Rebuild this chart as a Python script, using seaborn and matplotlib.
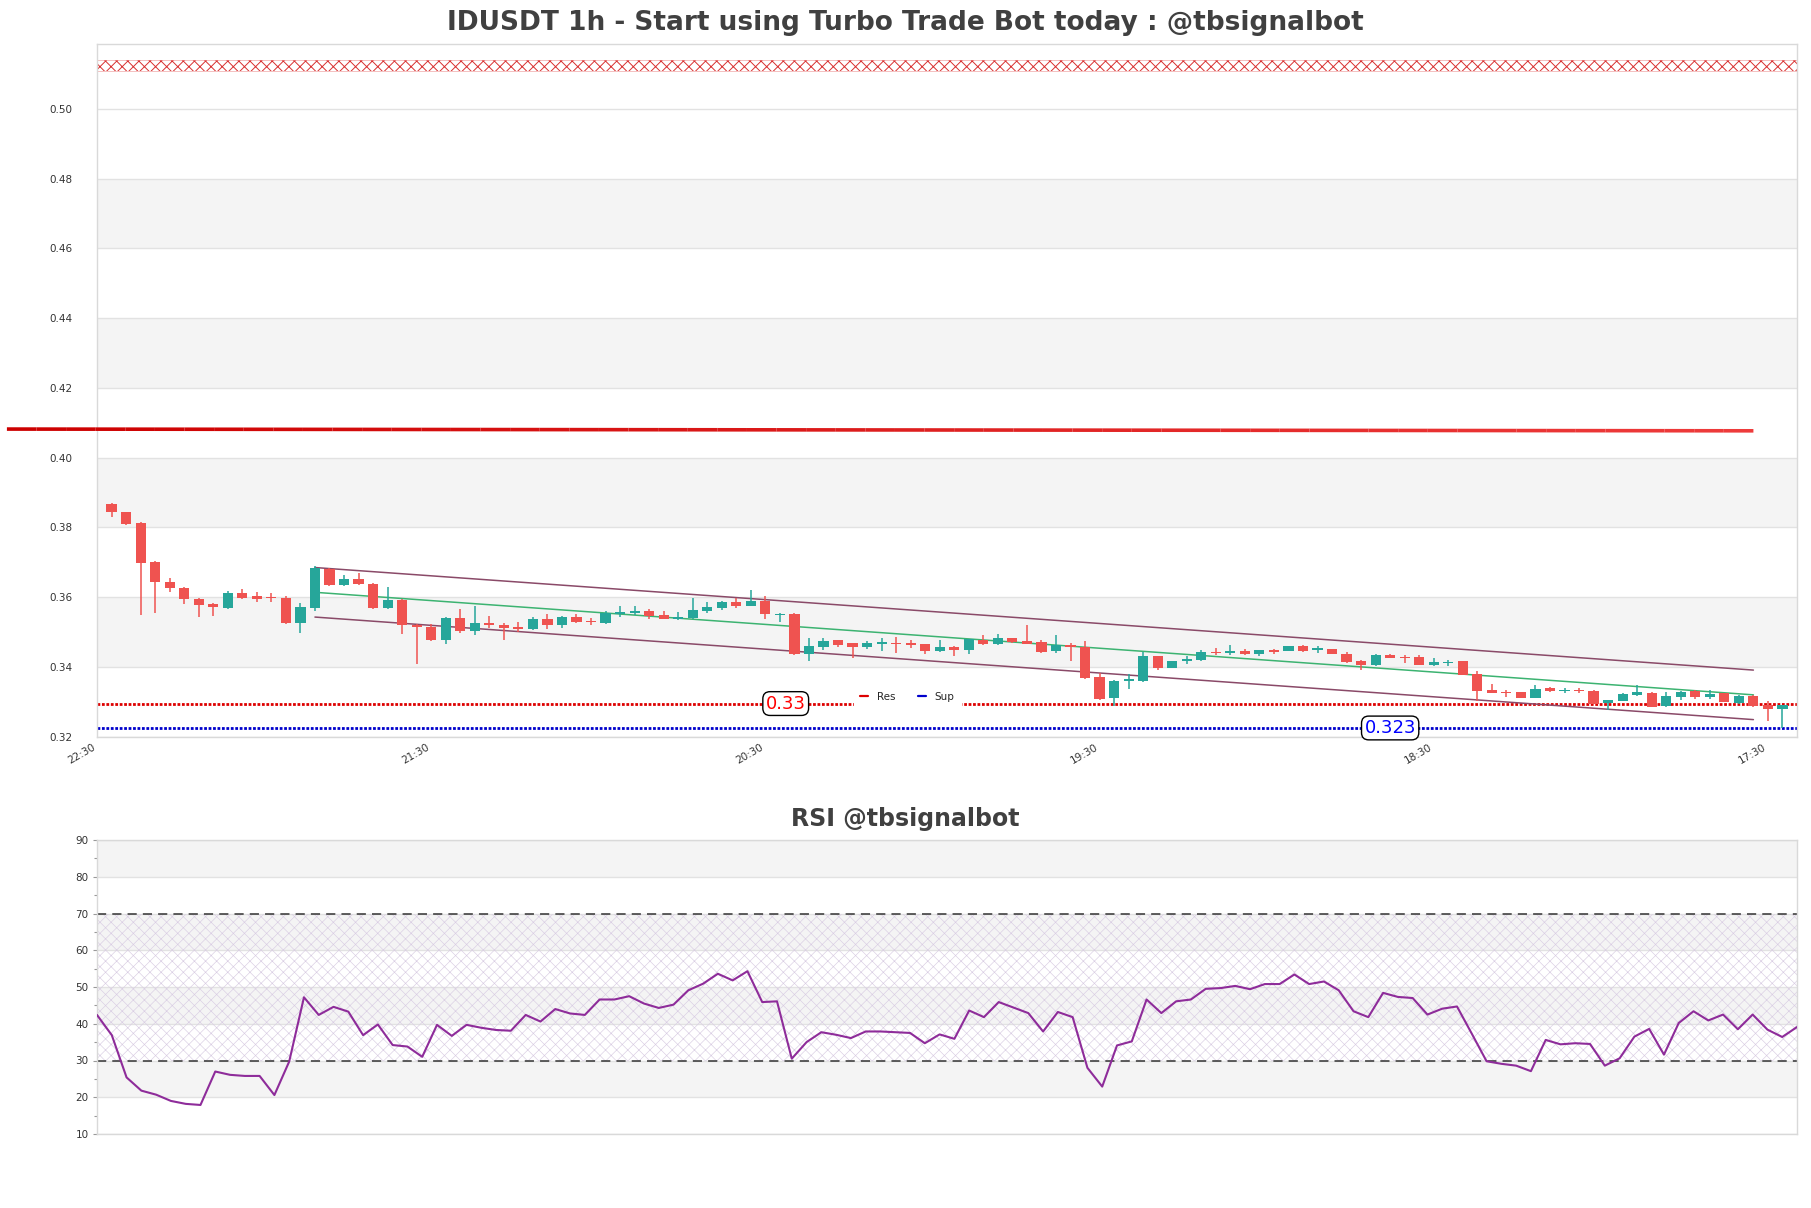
import numpy as np
import pandas as pd
import matplotlib
matplotlib.use("Agg")
import matplotlib.pyplot as plt
from matplotlib.collections import LineCollection
from matplotlib.lines import Line2D
import matplotlib.colors as mcolors
import seaborn as sns

# ---------------- data ----------------
opens = [0.3866, 0.3844, 0.3813, 0.3702, 0.3644, 0.3627, 0.3596, 0.3580, 0.3569, 0.3613,
         0.3602, 0.3600, 0.3598, 0.3526, 0.3570, 0.3682, 0.3634, 0.3651, 0.3639, 0.3570,
         0.3592, 0.3521, 0.3515, 0.3476, 0.3539, 0.3502, 0.3527, 0.3520, 0.3514, 0.3510,
         0.3537, 0.3521, 0.3542, 0.3532, 0.3527, 0.3552, 0.3556, 0.3561, 0.3548, 0.3538,
         0.3541, 0.3561, 0.3570, 0.3587, 0.3576, 0.3590, 0.3550, 0.3552, 0.3437, 0.3458,
         0.3477, 0.3469, 0.3456, 0.3467, 0.3469, 0.3470, 0.3466, 0.3445, 0.3457, 0.3449,
         0.3477, 0.3466, 0.3483, 0.3473, 0.3472, 0.3446, 0.3463, 0.3457, 0.3370, 0.3310,
         0.3361, 0.3361, 0.3431, 0.3397, 0.3417, 0.3419, 0.3443, 0.3441, 0.3446, 0.3438,
         0.3448, 0.3446, 0.3460, 0.3448, 0.3452, 0.3438, 0.3416, 0.3406, 0.3433, 0.3428,
         0.3428, 0.3407, 0.3411, 0.3416, 0.3379, 0.3333, 0.3329, 0.3328, 0.3311, 0.3339,
         0.3330, 0.3334, 0.3331, 0.3297, 0.3303, 0.3320, 0.3326, 0.3288, 0.3314, 0.3330,
         0.3314, 0.3324, 0.3297, 0.3316, 0.3290, 0.3279]
highs = [0.3870, 0.3845, 0.3815, 0.3703, 0.3654, 0.3628, 0.3598, 0.3584, 0.3619, 0.3624,
         0.3616, 0.3612, 0.3602, 0.3582, 0.3688, 0.3684, 0.3664, 0.3668, 0.3641, 0.3629,
         0.3594, 0.3524, 0.3524, 0.3543, 0.3565, 0.3575, 0.3547, 0.3525, 0.3528, 0.3542,
         0.3552, 0.3546, 0.3552, 0.3540, 0.3560, 0.3575, 0.3574, 0.3565, 0.3559, 0.3557,
         0.3597, 0.3586, 0.3589, 0.3599, 0.3621, 0.3604, 0.3554, 0.3554, 0.3482, 0.3483,
         0.3477, 0.3469, 0.3474, 0.3484, 0.3485, 0.3478, 0.3466, 0.3477, 0.3459, 0.3479,
         0.3492, 0.3494, 0.3483, 0.3520, 0.3477, 0.3492, 0.3470, 0.3475, 0.3384, 0.3362,
         0.3381, 0.3442, 0.3431, 0.3418, 0.3431, 0.3450, 0.3455, 0.3463, 0.3452, 0.3450,
         0.3452, 0.3459, 0.3463, 0.3460, 0.3452, 0.3444, 0.3419, 0.3436, 0.3438, 0.3435,
         0.3435, 0.3427, 0.3419, 0.3416, 0.3387, 0.3352, 0.3333, 0.3328, 0.3348, 0.3343,
         0.3341, 0.3341, 0.3333, 0.3305, 0.3326, 0.3348, 0.3329, 0.3328, 0.3330, 0.3333,
         0.3335, 0.3326, 0.3319, 0.3320, 0.3302, 0.3290]
lows = [0.3831, 0.3807, 0.3549, 0.3555, 0.3614, 0.3581, 0.3543, 0.3545, 0.3565, 0.3596,
        0.3587, 0.3587, 0.3523, 0.3497, 0.3561, 0.3631, 0.3631, 0.3634, 0.3565, 0.3565,
        0.3495, 0.3409, 0.3473, 0.3465, 0.3498, 0.3491, 0.3511, 0.3476, 0.3501, 0.3507,
        0.3510, 0.3512, 0.3525, 0.3519, 0.3522, 0.3542, 0.3549, 0.3538, 0.3537, 0.3535,
        0.3537, 0.3556, 0.3563, 0.3570, 0.3576, 0.3537, 0.3529, 0.3433, 0.3417, 0.3450,
        0.3456, 0.3427, 0.3452, 0.3446, 0.3440, 0.3453, 0.3438, 0.3442, 0.3432, 0.3438,
        0.3463, 0.3464, 0.3469, 0.3466, 0.3441, 0.3440, 0.3417, 0.3366, 0.3306, 0.3288,
        0.3336, 0.3358, 0.3392, 0.3397, 0.3408, 0.3416, 0.3434, 0.3434, 0.3434, 0.3432,
        0.3437, 0.3446, 0.3443, 0.3440, 0.3436, 0.3411, 0.3392, 0.3404, 0.3425, 0.3412,
        0.3406, 0.3404, 0.3402, 0.3376, 0.3303, 0.3324, 0.3314, 0.3311, 0.3311, 0.3329,
        0.3324, 0.3324, 0.3293, 0.3276, 0.3301, 0.3317, 0.3284, 0.3286, 0.3305, 0.3309,
        0.3307, 0.3300, 0.3295, 0.3286, 0.3246, 0.3226]
closes = [0.3843, 0.3811, 0.3699, 0.3643, 0.3625, 0.3594, 0.3579, 0.3573, 0.3613, 0.3599,
          0.3596, 0.3597, 0.3525, 0.3572, 0.3684, 0.3634, 0.3651, 0.3637, 0.3570, 0.3592,
          0.3520, 0.3514, 0.3476, 0.3539, 0.3502, 0.3527, 0.3519, 0.3512, 0.3508, 0.3537,
          0.3519, 0.3542, 0.3529, 0.3529, 0.3556, 0.3558, 0.3561, 0.3545, 0.3538, 0.3542,
          0.3563, 0.3572, 0.3587, 0.3576, 0.3589, 0.3551, 0.3553, 0.3436, 0.3460, 0.3475,
          0.3464, 0.3458, 0.3469, 0.3471, 0.3466, 0.3464, 0.3446, 0.3456, 0.3449, 0.3479,
          0.3465, 0.3482, 0.3471, 0.3467, 0.3442, 0.3463, 0.3456, 0.3368, 0.3308, 0.3359,
          0.3365, 0.3431, 0.3396, 0.3418, 0.3422, 0.3442, 0.3440, 0.3445, 0.3437, 0.3448,
          0.3444, 0.3459, 0.3446, 0.3453, 0.3438, 0.3414, 0.3406, 0.3433, 0.3427, 0.3426,
          0.3407, 0.3413, 0.3415, 0.3378, 0.3331, 0.3326, 0.3326, 0.3311, 0.3338, 0.3331,
          0.3334, 0.3330, 0.3295, 0.3305, 0.3322, 0.3329, 0.3286, 0.3316, 0.3329, 0.3314,
          0.3322, 0.3300, 0.3317, 0.3288, 0.3279, 0.3290]

rsi_values = [42.4, 36.9, 25.4, 21.8, 20.7, 19.0, 18.2, 17.9, 27.0, 26.1,
              25.8, 25.8, 20.6, 29.7, 47.2, 42.4, 44.6, 43.3, 36.9, 39.8,
              34.2, 33.8, 31.0, 39.7, 36.7, 39.7, 38.9, 38.3, 38.1, 42.4,
              40.6, 44.0, 42.8, 42.4, 46.6, 46.6, 47.5, 45.5, 44.3, 45.2,
              49.1, 50.9, 53.6, 51.8, 54.3, 45.9, 46.1, 30.5, 35.0, 37.7,
              37.0, 36.1, 37.9, 37.9, 37.7, 37.5, 34.7, 37.1, 35.9, 43.6,
              41.8, 45.9, 44.4, 42.9, 37.9, 43.2, 41.8, 28.0, 22.9, 34.1,
              35.2, 46.6, 42.9, 46.1, 46.6, 49.5, 49.7, 50.3, 49.4, 50.8,
              50.8, 53.4, 50.8, 51.5, 49.1, 43.4, 41.8, 48.4, 47.3, 47.0,
              42.5, 44.1, 44.7, 37.3, 29.8, 29.1, 28.6, 27.1, 35.6, 34.4,
              34.7, 34.5, 28.6, 30.6, 36.5, 38.6, 31.6, 40.2, 43.4, 40.9,
              42.5, 38.5, 42.5, 38.4, 36.4, 39.1]

tick_positions = [0, 23, 46, 69, 92, 115]
tick_labels = ["22:30", "21:30", "20:30", "19:30", "18:30", "17:30"]

resistance = 0.3295
support = 0.3225
res_label = "0.33"
sup_label = "0.323"
res_label_x = 47.4
sup_label_x = 89.0

trend_x = [-6.2, 114.0]
trend_y = [0.4082, 0.4077]

channel_x = [15, 114]
channel_mid = [0.3614, 0.3320]
channel_width = 0.0071

zone_low, zone_high = 0.5108, 0.5139

# ---------------- style ----------------
sns.set_theme(style="white")
plt.rcParams['font.family'] = ['DejaVu Sans']

W, H = 1811, 1208
fig = plt.figure(figsize=(W / 100, H / 100), dpi=100)
ax = fig.add_axes([97 / W, 1 - 736.7 / H, 1700 / W, (736.7 - 44) / H])
ax2 = fig.add_axes([97 / W, 1 - 1134 / H, 1700 / W, (1134 - 840) / H])

grid_c = '#e2e2e2'
spine_c = '#d9d9d9'
band_c = '#f4f4f4'
text_c = '#333333'

# ---------------- main chart ----------------
df = pd.DataFrame({"open": opens, "high": highs, "low": lows, "close": closes})
df["x"] = np.arange(1, len(df) + 1)
up = df["close"] >= df["open"]
colors = np.where(up, '#26a69a', '#ef5350')

ax.set_xlim(0, 117)
ax.set_ylim(0.32, 0.5186)

for lo in [0.34, 0.38, 0.42, 0.46]:
    ax.axhspan(lo, lo + 0.02, color=band_c, zorder=0, lw=0)
for yv in np.arange(0.32, 0.501, 0.02):
    ax.axhline(yv, color=grid_c, lw=1, zorder=0.5)

# hatched zone at the top
plt.rcParams['hatch.linewidth'] = 0.7
ax.fill_between([0, 117], zone_low, zone_high, facecolor='none',
                edgecolor='#d83030', hatch='xxx', linewidth=0, zorder=1)
ax.axhline(zone_low, color='#ec9090', lw=0.4, zorder=1)
ax.axhline(zone_high, color='#ec9090', lw=0.4, zorder=1)

# support / resistance
ax.axhline(resistance, color='#dd0000', lw=2.0, ls=(0, (1.0, 0.6)), zorder=2)
ax.axhline(support, color='#0000cc', lw=2.0, ls=(0, (1.0, 0.6)), zorder=2)

# channel
cx = np.array(channel_x, dtype=float)
cm = np.array(channel_mid)
sns.lineplot(x=cx, y=cm + channel_width, ax=ax, color='#8a4a68', lw=1.1, zorder=3)
sns.lineplot(x=cx, y=cm, ax=ax, color='#3cb371', lw=1.1, zorder=3)
sns.lineplot(x=cx, y=cm - channel_width, ax=ax, color='#8a4a68', lw=1.1, zorder=3)

# candles
ax.vlines(df["x"], df["low"], df["high"], colors=colors, lw=1.1, zorder=4)
body_bottom = np.minimum(df["open"], df["close"])
body_h = np.maximum(np.abs(df["close"] - df["open"]), 0.00025)
ax.bar(df["x"], body_h, bottom=body_bottom, width=0.7, color=colors, lw=0, zorder=5)

# gradient trend line
tx = np.linspace(trend_x[0], trend_x[1], 60)
ty = np.interp(tx, trend_x, trend_y)
pts = np.array([tx, ty]).T.reshape(-1, 1, 2)
segs = np.concatenate([pts[:-1], pts[1:]], axis=1)
c0 = np.array(mcolors.to_rgb('#cc0000'))
c1 = np.array(mcolors.to_rgb('#ee3b3b'))
seg_cols = [tuple(c0 + (c1 - c0) * t) for t in np.linspace(0, 1, len(segs))]
lc = LineCollection(segs, colors=seg_cols, linewidths=2.6, zorder=6, clip_on=False,
                    capstyle='butt')
ax.add_collection(lc)

# labels
ax.text(res_label_x, resistance, res_label, color='red', fontsize=13, ha='center',
        va='center', zorder=7,
        bbox=dict(boxstyle='round,pad=0.16,rounding_size=0.4', fc='white', ec='black', lw=1))
ax.text(sup_label_x, support, sup_label, color='blue', fontsize=13, ha='center',
        va='center', zorder=7,
        bbox=dict(boxstyle='round,pad=0.16,rounding_size=0.4', fc='white', ec='black', lw=1))

handles = [Line2D([], [], color='#dd0000', lw=1.6), Line2D([], [], color='#0000cc', lw=1.6)]
leg = ax.legend(handles, ['Res', 'Sup'], loc='lower left', bbox_to_anchor=(0.442, 0.034),
                ncol=2, fontsize=7.5, frameon=True, handlelength=0.8, columnspacing=2.2,
                handletextpad=0.8, borderpad=0.6, facecolor='white', edgecolor='white',
                framealpha=1.0)
leg.set_zorder(8)
leg.get_frame().set_boxstyle('square', pad=0)

ax.set_yticks(np.arange(0.32, 0.501, 0.02))
ax.set_yticklabels([f"{v:.2f}" for v in np.arange(0.32, 0.501, 0.02)])
ax.set_xticks(tick_positions)
ax.set_xticklabels(tick_labels, rotation=30, ha='right')
ax.tick_params(axis='both', length=0, labelsize=7.5, colors=text_c, pad=4)
ax.tick_params(axis='y', pad=18)
for s in ax.spines.values():
    s.set_color(spine_c)
    s.set_linewidth(1)
ax.set_xlabel('')
ax.set_ylabel('')

fig.text(0.5, 1 - 23 / H, "IDUSDT 1h - Start using Turbo Trade Bot today : @tbsignalbot",
         ha='center', va='center', fontsize=19, fontweight='bold', color='#404040')

# ---------------- RSI ----------------
rsi_df = pd.DataFrame({"x": np.arange(len(rsi_values)), "rsi": rsi_values})
ax2.set_xlim(0, len(rsi_values) - 1)
ax2.set_ylim(10, 90)
for lo in [20, 40, 60, 80]:
    ax2.axhspan(lo, lo + 10, color=band_c, zorder=0, lw=0)
for yv in range(10, 91, 10):
    ax2.axhline(yv, color=grid_c, lw=1, zorder=0.5)
plt.rcParams['hatch.linewidth'] = 0.45
ax2.fill_between([0, len(rsi_values) - 1], 30, 70, facecolor='none', edgecolor='#d9cde3',
                 hatch='xxx', linewidth=0, zorder=1)
ax2.axhline(70, color='#333333', lw=1.1, ls=(0, (6, 4)), zorder=2)
ax2.axhline(30, color='#333333', lw=1.1, ls=(0, (6, 4)), zorder=2)
sns.lineplot(data=rsi_df, x="x", y="rsi", ax=ax2, color='#8e2c9a', lw=1.5, zorder=3)

ax2.set_yticks(range(10, 91, 10))
ax2.set_yticks(range(15, 90, 10), minor=True)
ax2.set_xticks([])
ax2.tick_params(axis='y', which='both', left=True, length=3, width=0.8, color='#999999',
                labelsize=7.5, labelcolor=text_c, pad=3)
ax2.tick_params(axis='y', which='minor', length=2.5)
for s in ax2.spines.values():
    s.set_color(spine_c)
    s.set_linewidth(1)
ax2.set_xlabel('')
ax2.set_ylabel('')

fig.text(0.5, 1 - 819 / H, "RSI @tbsignalbot", ha='center', va='center', fontsize=17,
         fontweight='bold', color='#404040')

fig.savefig("out.png", dpi=100, facecolor='white')
